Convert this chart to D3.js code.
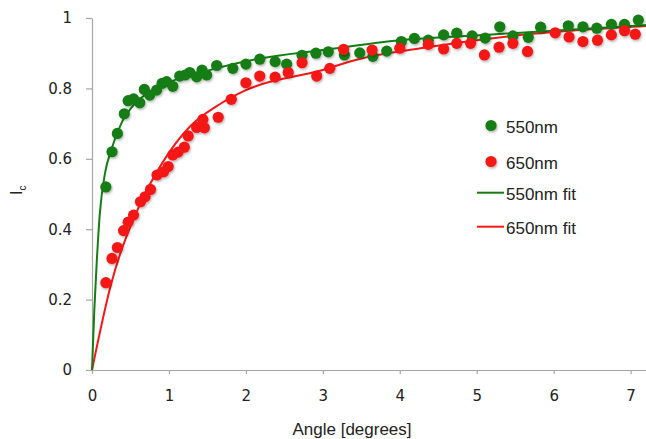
<!doctype html>
<html lang="en">
    <head>
        <title>Ic vs Angle</title>
        <meta charset="utf-8">
        <style>
            body { margin: 0; background: #fff; }
            svg { display: block; }
        </style>
    </head>
    <body>
        <svg></svg>
        <script src="https://d3js.org/d3.v7.min.js"></script>
        <script>
            //Measured points, 550nm
            var angle550 = [0.18, 0.26, 0.33, 0.42, 0.47, 0.54, 0.62, 0.68, 0.75, 0.84, 0.91, 0.97, 1.05, 1.14, 1.21, 1.27, 1.36, 1.43, 1.49, 1.62, 1.83, 2.0, 2.18, 2.38, 2.53, 2.73, 2.91, 3.07, 3.28, 3.48, 3.65, 3.83, 4.02, 4.19, 4.37, 4.57, 4.74, 4.94, 5.11, 5.30, 5.47, 5.67, 5.83, 6.19, 6.38, 6.56, 6.75, 6.92, 7.10];
            var ic550 = [0.52, 0.62, 0.672, 0.728, 0.765, 0.77, 0.759, 0.797, 0.781, 0.795, 0.814, 0.819, 0.806, 0.835, 0.838, 0.845, 0.833, 0.852, 0.838, 0.865, 0.857, 0.869, 0.883, 0.876, 0.869, 0.894, 0.90, 0.904, 0.895, 0.901, 0.891, 0.906, 0.933, 0.942, 0.937, 0.952, 0.957, 0.949, 0.943, 0.975, 0.949, 0.945, 0.974, 0.978, 0.975, 0.971, 0.982, 0.982, 0.994];
            //Measured points, 650nm
            var angle650 = [0.18, 0.26, 0.33, 0.41, 0.47, 0.54, 0.63, 0.69, 0.76, 0.845, 0.93, 0.99, 1.05, 1.12, 1.20, 1.25, 1.36, 1.44, 1.46, 1.64, 1.81, 2.0, 2.18, 2.38, 2.55, 2.73, 2.92, 3.09, 3.27, 3.64, 4.0, 4.37, 4.57, 4.74, 4.92, 5.10, 5.29, 5.47, 5.66, 6.02, 6.20, 6.38, 6.57, 6.75, 6.92, 7.06];
            var ic650 = [0.248, 0.317, 0.348, 0.396, 0.42, 0.44, 0.478, 0.492, 0.513, 0.554, 0.563, 0.578, 0.611, 0.619, 0.633, 0.665, 0.689, 0.712, 0.688, 0.718, 0.769, 0.816, 0.835, 0.832, 0.845, 0.873, 0.835, 0.857, 0.911, 0.909, 0.914, 0.925, 0.912, 0.928, 0.928, 0.895, 0.917, 0.928, 0.905, 0.958, 0.946, 0.933, 0.937, 0.952, 0.964, 0.954];
            //Fit curves
            var fitAngle550 = [0, 0.03, 0.06, 0.10, 0.17, 0.25, 0.38, 0.55, 0.84, 1.53, 2.18, 3.0, 4.0, 5.1, 7.2];
            var fitIc550 = [0, 0.17, 0.30, 0.44, 0.56, 0.625, 0.70, 0.755, 0.80, 0.852, 0.885, 0.909, 0.937, 0.952, 0.98];
            var fitAngle650 = [0, 0.24, 0.61, 0.91, 1.27, 1.66, 2.0, 2.96, 3.5, 4.27, 5.5, 7.2];
            var fitIc650 = [0, 0.237, 0.464, 0.587, 0.691, 0.755, 0.795, 0.85, 0.885, 0.914, 0.95, 0.977];
            //Axis ticks
            var xTicks = [0, 1, 2, 3, 4, 5, 6, 7];
            var yTicks = [0, 0.2, 0.4, 0.6, 0.8, 1];
            //Legend entries
            var legendLabels = ["550nm", "650nm", "550nm fit", "650nm fit"];

            var svgWidth = 646;
            var svgHeight = 439;
            var green = "#147d14";
            var red = "#f51717";
            var axisColor = "#a6a6a6";

            var svg = d3.select("svg")
            .attr("width", svgWidth)
            .attr("height", svgHeight);

            //Drop shadow for the dots
            var filter = svg.append("defs").append("filter")
            .attr("id", "shadow")
            .attr("x", "-50%").attr("y", "-50%")
            .attr("width", "200%").attr("height", "200%");
            filter.append("feDropShadow")
            .attr("dx", 1).attr("dy", 1.5)
            .attr("stdDeviation", 1.1)
            .attr("flood-color", "#000")
            .attr("flood-opacity", 0.3);

            var x = d3.scaleLinear().domain([0, 7.2]).range([92, 646]);
            var y = d3.scaleLinear().domain([0, 1]).range([370, 18]);

            //Axes
            var xAxis = svg.append("g")
            .attr("transform", "translate(0," + y(0) + ")")
            .call(d3.axisBottom(x).tickValues(xTicks).tickFormat(d3.format("d")).tickSize(4).tickPadding(16).tickSizeOuter(0));
            var yAxis = svg.append("g")
            .attr("transform", "translate(" + x(0) + ",0)")
            .call(d3.axisLeft(y).tickValues(yTicks).tickFormat(function(d) { return d; }).tickSize(6).tickPadding(14).tickSizeOuter(0));
            svg.selectAll(".domain, .tick line").attr("stroke", axisColor).attr("stroke-width", 1.2);
            svg.selectAll(".tick text")
            .attr("fill", "#222")
            .style("font-family", "DejaVu Sans, sans-serif")
            .style("font-size", "15px");

            //Axis titles
            svg.append("text")
            .attr("x", 352).attr("y", 435)
            .attr("text-anchor", "middle")
            .attr("fill", "#222")
            .style("font-family", "Liberation Sans, Arial, sans-serif")
            .style("font-size", "17px")
            .text("Angle [degrees]");
            var yTitle = svg.append("text")
            .attr("transform", "translate(21.5,195) rotate(-90)")
            .attr("fill", "#222")
            .style("font-family", "Liberation Sans, Arial, sans-serif")
            .style("font-size", "16px");
            yTitle.append("tspan").text("I");
            yTitle.append("tspan").attr("dy", 4).style("font-size", "10px").text("c");

            //Fit lines
            var fitLine = d3.line()
            .x(function(d) { return x(d[0]); })
            .y(function(d) { return y(d[1]); })
            .curve(d3.curveMonotoneX);
            svg.append("path")
            .datum(d3.zip(fitAngle650, fitIc650))
            .attr("fill", "none").attr("stroke", red).attr("stroke-width", 2)
            .attr("d", fitLine);
            svg.append("path")
            .datum(d3.zip(fitAngle550, fitIc550))
            .attr("fill", "none").attr("stroke", green).attr("stroke-width", 2)
            .attr("d", fitLine);

            //Dots
            function drawDots(xs, ys, color){
                svg.append("g").attr("filter", "url(#shadow)")
                .selectAll("circle")
                .data(d3.zip(xs, ys))
                .enter()
                .append("circle")
                .attr("cx", function(d) { return x(d[0]); })
                .attr("cy", function(d) { return y(d[1]); })
                .attr("r", 5.6)
                .attr("fill", color);
            }
            drawDots(angle550, ic550, green);
            drawDots(angle650, ic650, red);

            //Legend
            var legendY = [125.5, 161.5, 192.7, 226.7];
            var legendColors = [green, red, green, red];
            var legend = svg.append("g");
            legendLabels.forEach(function(label, i){
                if(i < 2){
                    legend.append("circle")
                    .attr("cx", 491).attr("cy", legendY[i]).attr("r", 5.6)
                    .attr("fill", legendColors[i])
                    .attr("filter", "url(#shadow)");
                }else{
                    legend.append("line")
                    .attr("x1", 477).attr("x2", 504)
                    .attr("y1", legendY[i]).attr("y2", legendY[i])
                    .attr("stroke", legendColors[i]).attr("stroke-width", 2);
                }
                legend.append("text")
                .attr("x", 506).attr("y", legendY[i] + 7.5)
                .attr("fill", "#222")
                .style("font-family", "Liberation Sans, Arial, sans-serif")
                .style("font-size", "17px")
                .text(label);
            });
        </script>
    </body>
</html>
